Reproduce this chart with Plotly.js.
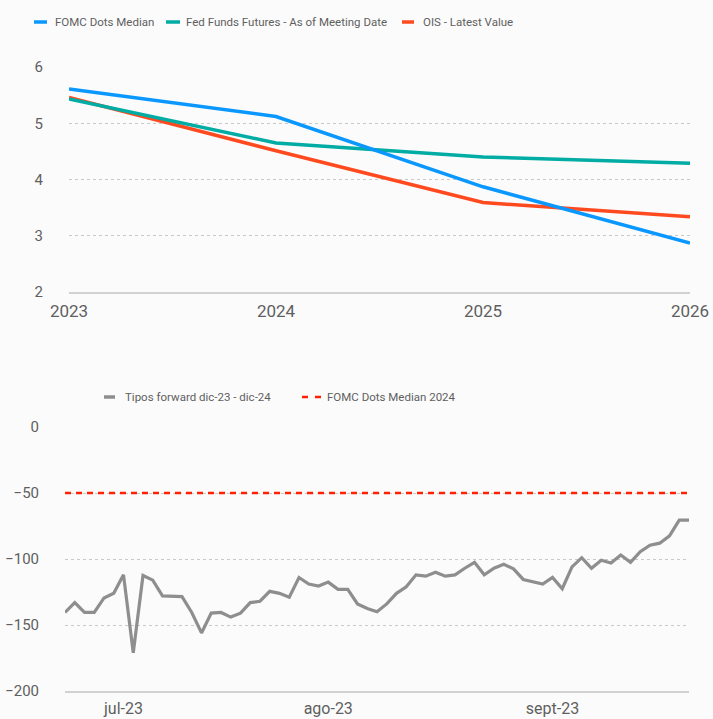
<!DOCTYPE html>
<html>
<head>
<meta charset="utf-8">
<script src="https://cdn.plot.ly/plotly-3.0.1.min.js"></script>
<style>
  html, body { margin: 0; padding: 0; background: #fbfbfb; }
  #chart { width: 713px; height: 719px; }
</style>
</head>
<body>
<div id="chart"></div>
<script>
// ---- Top chart data ----
const years = [2023, 2024, 2025, 2026];
const fomcDotsMedian = [5.61, 5.12, 3.87, 2.87];
const fedFundsFutures = [5.43, 4.65, 4.40, 4.29];
const oisLatest = [5.46, 4.51, 3.59, 3.34];
const yearTickLabels = ['2023', '2024', '2025', '2026'];
const topSeriesNames = ['FOMC Dots Median', 'Fed Funds Futures - As of Meeting Date', 'OIS - Latest Value'];

// ---- Bottom chart data ----
const dates = [
  '2023-06-23','2023-06-26','2023-06-27','2023-06-28','2023-06-29','2023-06-30',
  '2023-07-03','2023-07-04','2023-07-05','2023-07-06','2023-07-07','2023-07-10',
  '2023-07-11','2023-07-12','2023-07-13','2023-07-14','2023-07-17','2023-07-18',
  '2023-07-19','2023-07-20','2023-07-21','2023-07-24','2023-07-25','2023-07-26',
  '2023-07-27','2023-07-28','2023-07-31',
  '2023-08-01','2023-08-02','2023-08-03','2023-08-04','2023-08-07','2023-08-08',
  '2023-08-09','2023-08-10','2023-08-11','2023-08-14','2023-08-15','2023-08-16',
  '2023-08-17','2023-08-18','2023-08-21','2023-08-22','2023-08-23','2023-08-24',
  '2023-08-25','2023-08-28','2023-08-29','2023-08-30','2023-08-31',
  '2023-09-01','2023-09-04','2023-09-05','2023-09-06','2023-09-07','2023-09-08',
  '2023-09-11','2023-09-12','2023-09-13','2023-09-14','2023-09-15','2023-09-18',
  '2023-09-19','2023-09-20','2023-09-21'
];
const forwardSpread = [
  -140.5, -133, -140.5, -140.5, -129.5, -126,
  -112, -171, -112.5, -116, -128, -128,
  -128.5, -140.5, -156, -141, -140.5, -144,
  -141, -133, -132, -124.5, -126, -129,
  -114, -119, -120.5,
  -117.5, -123, -123, -134, -137.5, -140,
  -134, -126, -121, -112, -113, -110,
  -113, -112, -107, -102.5, -112, -107,
  -104, -107.5, -115.5, -117, -119,
  -114, -122.5, -106, -99, -107, -101,
  -103, -97, -102.5, -94.5, -89.5, -88,
  -82.5, -70.5, -70.5
];
const fomcDots2024 = -50;
const monthTickDates = ['2023-07-03', '2023-08-01', '2023-09-01'];
const monthTickLabels = ['jul-23', 'ago-23', 'sept-23'];
const bottomSeriesNames = ['Tipos forward dic-23 - dic-24', 'FOMC Dots Median 2024'];

const FONT = 'Roboto, sans-serif';
const TXT = '#5f5f5f';
const W = 713, H = 719;
const px = v => v / W;
const py = v => 1 - v / H;

const C_BLUE = '#0a98ff', C_TEAL = '#00aca3', C_RED = '#ff4a1f', C_GRAY = '#8e8e8e', C_DASH = '#ff2200';

const traces = [
  { x: years, y: oisLatest, type: 'scatter', mode: 'lines', name: topSeriesNames[2],
    line: { color: C_RED, width: 3.5 }, xaxis: 'x', yaxis: 'y' },
  { x: years, y: fedFundsFutures, type: 'scatter', mode: 'lines', name: topSeriesNames[1],
    line: { color: C_TEAL, width: 3.5 }, xaxis: 'x', yaxis: 'y' },
  { x: years, y: fomcDotsMedian, type: 'scatter', mode: 'lines', name: topSeriesNames[0],
    line: { color: C_BLUE, width: 3.5 }, xaxis: 'x', yaxis: 'y' },
  { x: dates, y: forwardSpread, type: 'scatter', mode: 'lines', name: bottomSeriesNames[0],
    line: { color: C_GRAY, width: 3.2 }, xaxis: 'x2', yaxis: 'y2' },
  { x: [dates[0], dates[dates.length - 1]], y: [fomcDots2024, fomcDots2024], type: 'scatter', mode: 'lines',
    name: bottomSeriesNames[1],
    line: { color: C_DASH, width: 2.5, dash: '6px,5px' }, xaxis: 'x2', yaxis: 'y2' }
];

const gridStyle = { showgrid: true, gridcolor: '#c9c9c9', gridwidth: 1, griddash: 'dot' };

// Manual legends (sample line + text), positioned like the reference
const legendItems = [
  { name: topSeriesNames[0], color: C_BLUE, x0: 34, x1: 47, tx: 53, y: 22, dash: 'solid', w: 3.5 },
  { name: topSeriesNames[1], color: C_TEAL, x0: 166, x1: 180, tx: 184, y: 22, dash: 'solid', w: 3.5 },
  { name: topSeriesNames[2], color: C_RED, x0: 402, x1: 414, tx: 421, y: 22, dash: 'solid', w: 3.5 },
  { name: bottomSeriesNames[0], color: C_GRAY, x0: 104, x1: 115, tx: 123, y: 397, dash: 'solid', w: 3.5 },
  { name: bottomSeriesNames[1], color: C_DASH, x0: 302, x1: 322, tx: 325, y: 397, dash: '6px,7px', w: 2.5 }
];
const shapes = legendItems.map(it => ({
  type: 'line', xref: 'paper', yref: 'paper',
  x0: px(it.x0), x1: px(it.x1), y0: py(it.y), y1: py(it.y),
  line: { color: it.color, width: it.w, dash: it.dash }
}));
const annotations = legendItems.map(it => ({
  text: it.name, xref: 'paper', yref: 'paper', x: px(it.tx), y: py(it.y),
  xanchor: 'left', yanchor: 'middle', showarrow: false,
  font: { family: FONT, size: 11.5, color: TXT }
}));

const layout = {
  width: W, height: H,
  margin: { l: 0, r: 0, t: 0, b: 0 },
  paper_bgcolor: '#fbfbfb',
  plot_bgcolor: '#fbfbfb',
  font: { family: FONT, color: TXT, size: 14 },
  showlegend: false,
  shapes: shapes,
  annotations: annotations,
  xaxis: {
    domain: [px(69), px(690)],
    type: 'linear', range: [2023, 2026],
    tickvals: years, ticktext: yearTickLabels,
    showgrid: false, zeroline: false,
    showline: true, linecolor: '#d2d2d2', linewidth: 2,
    ticks: '', ticklabelstandoff: 3,
    tickfont: { family: FONT, size: 17, color: TXT },
    anchor: 'y', fixedrange: true
  },
  yaxis: Object.assign({
    domain: [py(292), py(67)],
    range: [2, 6], tickvals: [2, 3, 4, 5, 6],
    zeroline: false, showline: false, ticks: '',
    ticklabelstandoff: 25,
    tickfont: { family: FONT, size: 15, color: TXT },
    anchor: 'x', fixedrange: true
  }, gridStyle),
  xaxis2: {
    domain: [px(65), px(689)],
    type: 'category', range: [0, dates.length - 1],
    tickvals: monthTickDates, ticktext: monthTickLabels,
    showgrid: false, zeroline: false,
    showline: true, linecolor: '#d2d2d2', linewidth: 2,
    ticks: '', ticklabelstandoff: 2,
    tickfont: { family: FONT, size: 16, color: TXT },
    anchor: 'y2', fixedrange: true
  },
  yaxis2: Object.assign({
    domain: [py(691), py(427)],
    range: [-200, 0], tickvals: [-200, -150, -100, -50, 0],
    zeroline: false, showline: false, ticks: '',
    ticklabelstandoff: 25,
    tickfont: { family: FONT, size: 15, color: TXT },
    anchor: 'x2', fixedrange: true
  }, gridStyle)
};

Plotly.newPlot('chart', traces, layout, { staticPlot: true, displayModeBar: false });
</script>
</body>
</html>
